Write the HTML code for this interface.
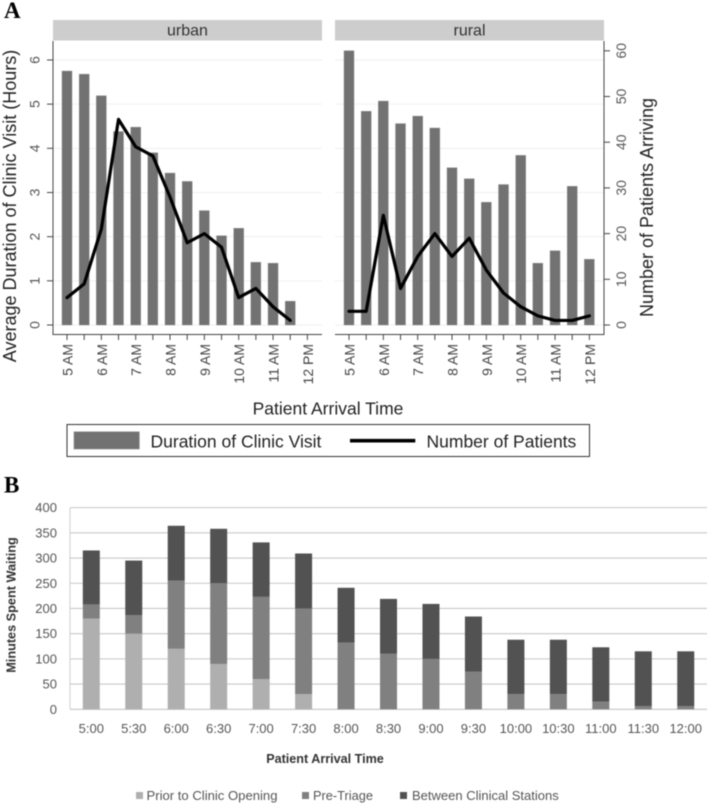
<!DOCTYPE html>
<html>
<head>
<meta charset="utf-8">
<title>Clinic visit duration and waiting by arrival time</title>
<style>
html,body{margin:0;padding:0;background:#fff;width:709px;height:805px;overflow:hidden}
svg{display:block;filter:blur(0.4px)}
text{font-family:"Liberation Sans",sans-serif}
.serif{font-family:"Liberation Serif",serif;font-weight:bold;fill:#000}
</style>
</head>
<body>
<svg id="chart" xmlns="http://www.w3.org/2000/svg" width="709" height="805" viewBox="0 0 709 805">
  <text class="serif" x="4" y="18" font-size="23">A</text>
  <text class="serif" x="4" y="492.5" font-size="23">B</text>

  <g id="panelA"></g>

  <text transform="translate(16,206) rotate(-90)" text-anchor="middle" font-size="18" fill="#222">Average Duration of Clinic Visit (Hours)</text>
  <text transform="translate(653,207.5) rotate(-90)" text-anchor="middle" font-size="18" fill="#222">Number of Patients Arriving</text>
  <text x="328" y="414.3" text-anchor="middle" font-size="17.5" fill="#222">Patient Arrival Time</text>

  <g>
    <rect x="67" y="424.5" width="522.5" height="32" fill="#fff" stroke="#333" stroke-width="1"/>
    <rect x="74" y="431.8" width="65.3" height="17.2" fill="#727272" stroke="#8a8a8a" stroke-width="0.6"/>
    <text x="150.5" y="447.5" font-size="17.5" fill="#222">Duration of Clinic Visit</text>
    <line x1="350" x2="415.3" y1="440.7" y2="440.7" stroke="#000" stroke-width="3.6"/>
    <text x="426.5" y="447.5" font-size="17.5" fill="#222">Number of Patients</text>
  </g>

  <g id="panelB"></g>

  <text transform="translate(15.5,605) rotate(-90)" text-anchor="middle" font-size="12.7" font-weight="bold" fill="#333">Minutes Spent Waiting</text>
  <text x="325" y="763" text-anchor="middle" font-size="12.6" font-weight="bold" fill="#333">Patient Arrival Time</text>

  <g>
    <rect x="136" y="792" width="7" height="7" fill="#afafaf"/>
    <text x="146.5" y="800" font-size="13.1" fill="#555">Prior to Clinic Opening</text>
    <rect x="302" y="792" width="7" height="7" fill="#808080"/>
    <text x="313" y="800" font-size="12.8" fill="#555">Pre-Triage</text>
    <rect x="400" y="792" width="7" height="7" fill="#525252"/>
    <text x="412" y="800" font-size="13" fill="#555">Between Clinical Stations</text>
  </g>
</svg>
<script>
const hourLabels = ['5 AM','6 AM','7 AM','8 AM','9 AM','10 AM','11 AM','12 PM'];
const durationTicks = [0,1,2,3,4,5,6];
const patientTicks = [0,10,20,30,40,50,60];
const urbanDuration = [5.75,5.68,5.19,4.38,4.48,3.9,3.44,3.25,2.59,2.02,2.19,1.42,1.40,0.54];
const urbanPatients = [6,9,21,45,39,37,28,18,20,17,6,8,4,1];
const ruralDuration = [6.21,4.84,5.07,4.56,4.73,4.46,3.56,3.31,2.78,3.18,3.84,1.40,1.68,3.14,1.49];
const ruralPatients = [3,3,24,8,15,20,15,19,12,7,4,2,1,1,2];

const timeLabels = ['5:00','5:30','6:00','6:30','7:00','7:30','8:00','8:30','9:00','9:30','10:00','10:30','11:00','11:30','12:00'];
const minuteTicks = [0,50,100,150,200,250,300,350,400];
const priorMinutes = [180,150,120,90,60,30,0,0,0,0,0,0,0,0,0];
const preTriageMinutes = [28,37,135,160,163,170,132,110,100,75,30,30,15,6,6];
const betweenMinutes = [107,108,109,108,108,109,109,109,109,109,108,108,108,109,109];

const NS = 'http://www.w3.org/2000/svg';
function mk(parent, tag, attrs, txt){
  const el = document.createElementNS(NS, tag);
  for (const k in attrs) el.setAttribute(k, attrs[k]);
  if (txt !== undefined) el.textContent = txt;
  parent.appendChild(el);
  return el;
}

/* Panel A scales */
const yHours = v => 325 - v * 44.17;
const yCount = v => 325 - v * 4.57;
const slotStep = 17.17;

function drawFacet(name, left, right, firstX, durations, patients){
  const root = document.getElementById('panelA');
  const g = mk(root, 'g', {});
  
  
  const xAt = i => firstX + i * slotStep;

  const head = mk(g, 'rect', {x:left, y:20, width:right-left, height:20.5, fill:'#cdcdcd'});
  
  
  const headText = mk(g, 'text', {x:(left+right)/2, y:35.5, 'text-anchor':'middle', 'font-size':16, fill:'#333'}, name);
  
  

  durationTicks.forEach(t => {
    const gl = mk(g, 'line', {x1:left, x2:right, y1:yHours(t), y2:yHours(t), stroke:'#f0f0f0', 'stroke-width':1});
    
    
  });

  durations.forEach((v, i) => {
    const b = mk(g, 'rect', {x:xAt(i)-5, y:yHours(v), width:10, height:yHours(0)-yHours(v), fill:'#727272', stroke:'#8a8a8a', 'stroke-width':0.4});
    
    
  });

  const pts = patients.map((v, i) => xAt(i) + ',' + yCount(v)).join(' ');
  const ln = mk(g, 'polyline', {points:pts, fill:'none', stroke:'#000', 'stroke-width':3.2, 'stroke-linejoin':'round', 'stroke-linecap':'round'});
  
  

  const ax = mk(g, 'line', {x1:left, x2:right, y1:334.5, y2:334.5, stroke:'#444', 'stroke-width':1});
  
  

  for (let i = 0; i < 15; i++) {
    const tk = mk(g, 'line', {x1:xAt(i), x2:xAt(i), y1:334.5, y2:340, stroke:'#444', 'stroke-width':1});
    
    
  }
  hourLabels.forEach((lab, i) => {
    const x = xAt(i * 2);
    const t = mk(g, 'text', {transform:'translate(' + (x+5.5) + ',344) rotate(-90)', 'text-anchor':'end', 'font-size':14, fill:'#444'}, lab);
    
    
  });
}

drawFacet('urban', 53, 322, 67, urbanDuration, urbanPatients);
drawFacet('rural', 335, 604, 349, ruralDuration, ruralPatients);

(function(){
  const root = document.getElementById('panelA');
  const la = mk(root, 'line', {x1:53, x2:53, y1:41, y2:335, stroke:'#444', 'stroke-width':1});
  
  
  const ra = mk(root, 'line', {x1:604, x2:604, y1:41, y2:335, stroke:'#444', 'stroke-width':1});
  
  
  durationTicks.forEach(t => {
    const y = yHours(t);
    const tk = mk(root, 'line', {x1:47, x2:53, y1:y, y2:y, stroke:'#444', 'stroke-width':1});
    
    
    const lb = mk(root, 'text', {transform:'translate(39.3,' + y + ') rotate(-90)', 'text-anchor':'middle', 'font-size':14, fill:'#555'}, t);
    
    
  });
  patientTicks.forEach(t => {
    const y = yCount(t);
    const tk = mk(root, 'line', {x1:604, x2:610, y1:y, y2:y, stroke:'#444', 'stroke-width':1});
    
    
    const lb = mk(root, 'text', {transform:'translate(626,' + y + ') rotate(-90)', 'text-anchor':'middle', 'font-size':14, fill:'#555'}, t);
    
    
  });
})();

/* Panel B */
(function(){
  const root = document.getElementById('panelB');
  const yMin = v => 709.3 - v * 0.5042;
  const xAt = i => 91.3 + i * 42.46;
  const barW = 17;

  minuteTicks.forEach(t => {
    const y = yMin(t);
    const gl = mk(root, 'line', {x1:70, x2:707, y1:y, y2:y, stroke: t === 0 ? '#c4c4c4' : '#c8c8c8', 'stroke-width':1.1});
    
    
    const lb = mk(root, 'text', {x:57, y:y+4.5, 'text-anchor':'end', 'font-size':13, fill:'#555'}, t);
    
    
  });
  const la = mk(root, 'line', {x1:70, x2:70, y1:yMin(400), y2:yMin(0), stroke:'#d0d0d0', 'stroke-width':1});
  
  

  timeLabels.forEach((lab, i) => {
    const x = xAt(i);
    let base = 0;
    [[priorMinutes[i], '#afafaf', 'prior-bar'], [preTriageMinutes[i], '#808080', 'pretriage-bar'], [betweenMinutes[i], '#525252', 'between-bar']].forEach(s => {
      if (s[0] > 0) {
        const r = mk(root, 'rect', {x:x-barW/2, y:yMin(base+s[0]), width:barW, height:yMin(base)-yMin(base+s[0]), fill:s[1]});
        
        
      }
      base += s[0];
    });
    const t = mk(root, 'text', {x:x, y:733, 'text-anchor':'middle', 'font-size':13, fill:'#555'}, lab);
    
    
  });
})();
</script>
</body>
</html>
